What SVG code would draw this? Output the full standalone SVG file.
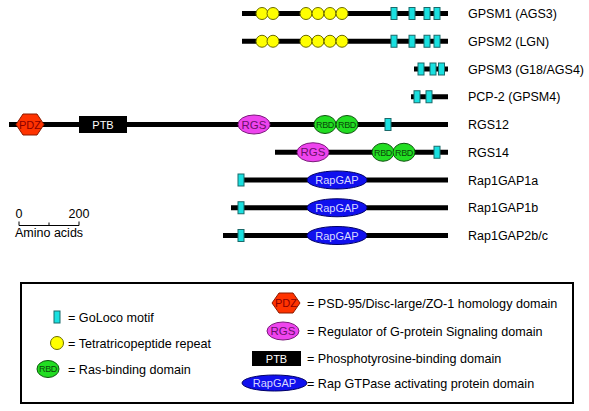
<svg xmlns="http://www.w3.org/2000/svg" width="589" height="411" viewBox="0 0 589 411">
<style>
text{font-family:"Liberation Sans",Arial,sans-serif}
.lbl{font-size:12.5px;fill:#000}
.leg{font-size:12.6px;fill:#000}
.bb{stroke:#000;stroke-width:5}
.go{fill:#19e0e0;stroke:#1a6a6a;stroke-width:1}
.tpr{fill:#ffff00;stroke:#6b6b00;stroke-width:1}
.rbd{fill:#22dd22;stroke:#0d550d;stroke-width:1}
.rbdt{font-size:9px;fill:#0a4a0a;text-anchor:middle;letter-spacing:-0.3px}
.rgs{fill:#ee44ee;stroke:#7a1a7a;stroke-width:1}
.rgst{font-size:11.5px;fill:#6a106a;text-anchor:middle}
.pdz{fill:#ff3300;stroke:#8a1a00;stroke-width:1}
.pdzt{font-size:11px;fill:#8a0000;text-anchor:middle}
.ptb{fill:#000}
.ptbt{font-size:11px;fill:#fff;text-anchor:middle}
.gap{fill:#1010ee;stroke:#000066;stroke-width:1}
.gapt{font-size:11px;fill:#d8d8ff;text-anchor:middle}
</style>
<defs>
<rect id="g" class="go" x="-3" y="-6" width="6" height="12"/>
<circle id="t" class="tpr" r="6"/>
</defs>
<g id="GPSM1">
<line class="bb" x1="242" y1="13.5" x2="448" y2="13.5"/>
<use href="#t" x="262" y="13.5"/><use href="#t" x="273" y="13.5"/>
<use href="#t" x="306" y="13.5"/><use href="#t" x="318" y="13.5"/><use href="#t" x="330" y="13.5"/><use href="#t" x="342" y="13.5"/>
<use href="#g" x="394" y="13.5"/><use href="#g" x="412" y="13.5"/><use href="#g" x="427" y="13.5"/><use href="#g" x="437" y="13.5"/>
<text class="lbl" x="468" y="18">GPSM1 (AGS3)</text>
</g>
<g id="GPSM2">
<line class="bb" x1="242" y1="41.25" x2="448" y2="41.25"/>
<use href="#t" x="262" y="41.25"/><use href="#t" x="273" y="41.25"/>
<use href="#t" x="306" y="41.25"/><use href="#t" x="318" y="41.25"/><use href="#t" x="330" y="41.25"/><use href="#t" x="342" y="41.25"/>
<use href="#g" x="394" y="41.25"/><use href="#g" x="412" y="41.25"/><use href="#g" x="427" y="41.25"/><use href="#g" x="437" y="41.25"/>
<text class="lbl" x="468" y="46">GPSM2 (LGN)</text>
</g>
<g id="GPSM3">
<line class="bb" x1="414" y1="69" x2="448" y2="69"/>
<use href="#g" x="421" y="69"/><use href="#g" x="433" y="69"/><use href="#g" x="441.5" y="69"/>
<text class="lbl" x="468" y="73.5">GPSM3 (G18/AGS4)</text>
</g>
<g id="PCP2">
<line class="bb" x1="411" y1="96.75" x2="448" y2="96.75"/>
<use href="#g" x="417" y="96.75"/><use href="#g" x="429" y="96.75"/>
<text class="lbl" x="468" y="101">PCP-2 (GPSM4)</text>
</g>
<g id="RGS12">
<line class="bb" x1="9" y1="124.5" x2="448" y2="124.5"/>
<polygon class="pdz" points="16,124.5 23,114 37,114 44,124.5 37,135 23,135"/>
<text class="pdzt" x="30" y="128.5">PDZ</text>
<rect class="ptb" x="79" y="116" width="48" height="17"/>
<text class="ptbt" x="103" y="128.5">PTB</text>
<ellipse class="rgs" cx="254" cy="124.5" rx="16" ry="9.5"/>
<text class="rgst" x="254" y="128.5">RGS</text>
<ellipse class="rbd" cx="325" cy="124.5" rx="11" ry="9"/>
<text class="rbdt" x="325" y="127.8">RBD</text>
<ellipse class="rbd" cx="347" cy="124.5" rx="11" ry="9"/>
<text class="rbdt" x="347" y="127.8">RBD</text>
<use href="#g" x="388" y="124.5"/>
<text class="lbl" x="468" y="129">RGS12</text>
</g>
<g id="RGS14">
<line class="bb" x1="275" y1="152.25" x2="448" y2="152.25"/>
<ellipse class="rgs" cx="313" cy="152.25" rx="16" ry="9.5"/>
<text class="rgst" x="313" y="156.25">RGS</text>
<ellipse class="rbd" cx="383" cy="152.25" rx="11" ry="9"/>
<text class="rbdt" x="383" y="155.5">RBD</text>
<ellipse class="rbd" cx="404" cy="152.25" rx="11" ry="9"/>
<text class="rbdt" x="404" y="155.5">RBD</text>
<use href="#g" x="437" y="152.25"/>
<text class="lbl" x="468" y="156.5">RGS14</text>
</g>
<g id="Rap1GAP1a">
<line class="bb" x1="238" y1="180" x2="448" y2="180"/>
<use href="#g" x="241" y="180"/>
<ellipse class="gap" cx="337" cy="180" rx="30" ry="9"/>
<text class="gapt" x="337" y="184">RapGAP</text>
<text class="lbl" x="468" y="184.5">Rap1GAP1a</text>
</g>
<g id="Rap1GAP1b">
<line class="bb" x1="231" y1="207.75" x2="448" y2="207.75"/>
<use href="#g" x="241" y="207.75"/>
<ellipse class="gap" cx="337" cy="207.75" rx="30" ry="9"/>
<text class="gapt" x="337" y="211.75">RapGAP</text>
<text class="lbl" x="468" y="212">Rap1GAP1b</text>
</g>
<g id="Rap1GAP2bc">
<line class="bb" x1="223" y1="235.5" x2="448" y2="235.5"/>
<use href="#g" x="241" y="235.5"/>
<ellipse class="gap" cx="337" cy="235.5" rx="30" ry="9"/>
<text class="gapt" x="337" y="239.5">RapGAP</text>
<text class="lbl" x="468" y="240">Rap1GAP2b/c</text>
</g>
<g id="scale">
<text class="lbl" x="19" y="218" text-anchor="middle">0</text>
<text class="lbl" x="79" y="218" text-anchor="middle">200</text>
<path d="M19 221.5V225.5H79V221.5M49 222.5V225.5" fill="none" stroke="#000" stroke-width="1"/>
<text class="lbl" x="15" y="237">Amino acids</text>
</g>
<g id="legend">
<rect x="21" y="283" width="552" height="120" fill="#fff" stroke="#000" stroke-width="2"/>
<rect class="go" x="54" y="311" width="6" height="12"/>
<text class="leg" x="68" y="321.5">= GoLoco motif</text>
<circle class="tpr" cx="57" cy="343" r="6.5"/>
<text class="leg" x="68" y="347.5">= Tetratricopeptide repeat</text>
<ellipse class="rbd" cx="48" cy="369" rx="11" ry="8.5"/>
<text class="rbdt" x="48" y="372.3">RBD</text>
<text class="leg" x="68" y="373.5">= Ras-binding domain</text>
<polygon class="pdz" points="272,303 279,293 293,293 300,303 293,313 279,313"/>
<text class="pdzt" x="286" y="307">PDZ</text>
<text class="leg" x="307" y="307.5">= PSD-95/Disc-large/ZO-1 homology domain</text>
<ellipse class="rgs" cx="283" cy="331" rx="16" ry="9"/>
<text class="rgst" x="283" y="335">RGS</text>
<text class="leg" x="307" y="335.5">= Regulator of G-protein Signaling domain</text>
<rect class="ptb" x="252" y="351" width="49" height="15"/>
<text class="ptbt" x="276.5" y="362.5">PTB</text>
<text class="leg" x="307" y="362.5">= Phosphotyrosine-binding domain</text>
<ellipse class="gap" cx="274.5" cy="383" rx="32.5" ry="8"/>
<text class="gapt" x="274.5" y="387">RapGAP</text>
<text class="leg" x="307" y="387.5">= Rap GTPase activating protein domain</text>
</g>
</svg>
